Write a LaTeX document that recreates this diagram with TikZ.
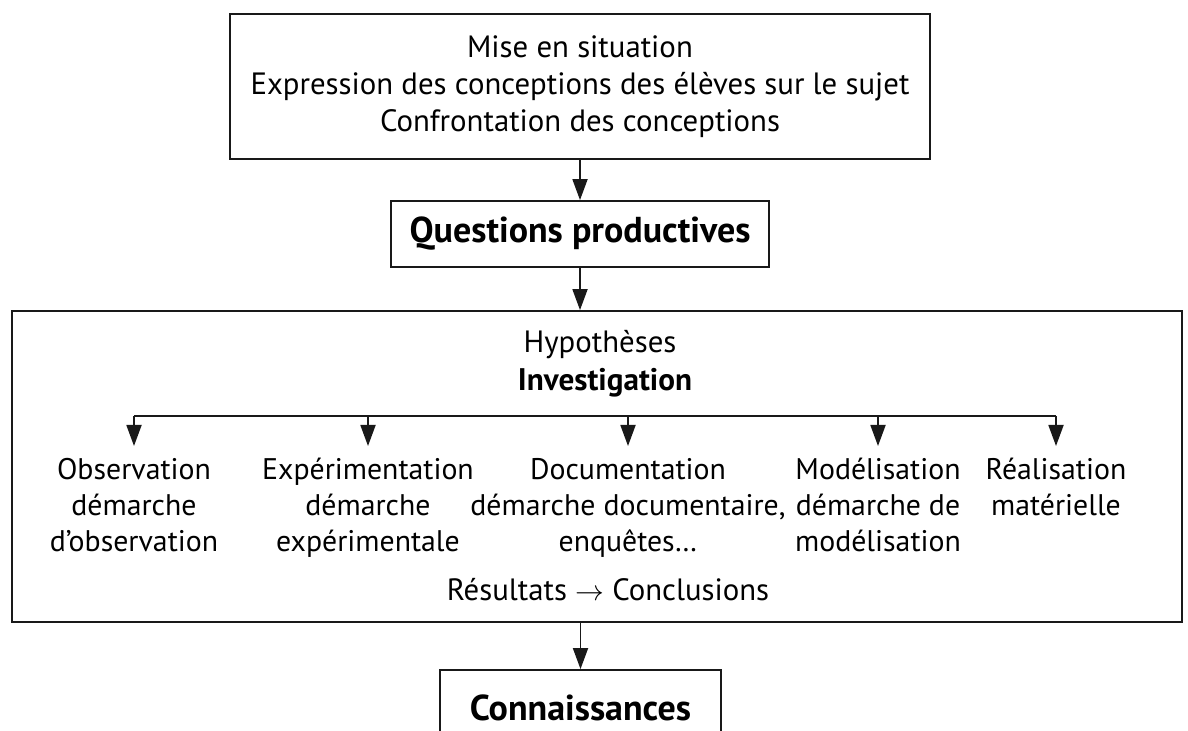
\documentclass[tikz,border=0pt]{standalone}
\usepackage{fontspec}
\setmainfont{PT Sans}
\usetikzlibrary{arrows.meta,positioning}
\definecolor{ink}{RGB}{25,25,25}
\tikzset{
  box/.style={draw=ink,line width=0.9pt,align=center,inner sep=0pt},
  txt/.style={align=center,inner sep=0pt,font=\fontsize{15.4}{18.5}\selectfont},
  head/.style={align=center,inner sep=0pt,font=\fontsize{18}{21}\selectfont\bfseries},
  col/.style={align=center,anchor=north,inner sep=6pt,
    font=\fontsize{14.9}{18}\selectfont},
  arr/.style={-{Triangle[length=10.5pt,width=7.5pt]},line width=0.9pt,draw=ink},
  bar/.style={line width=0.9pt,draw=ink},
}

\begin{document}
\begin{tikzpicture}[x=0.5pt,y=-0.5pt]
  \useasboundingbox (0,0) rectangle (1188,731);
  \node[box,txt,minimum width=350pt,minimum height=72.5pt] (sit) at (580,86.5){Mise en situation\\
    Expression des conceptions des élèves sur le sujet\\
    Confrontation des conceptions};
  \node[box,head,minimum width=189pt,minimum height=33pt] (qp) at (580,234){Questions productives};
  \node[box,minimum width=585pt,minimum height=155.5pt] (inv) at (597,466.5){};
  \node[txt] (hyp) at (600,345){Hypothèses};
  \node[head,font=\fontsize{15.6}{18}\selectfont\bfseries] (invt) at (605,383){Investigation};
  \coordinate (fork) at (594,416);
  \node[col] (obs) at (134,446){Observation\\démarche\\d’observation};
  \node[col] (exp) at (368,446){Expérimentation\\démarche\\expérimentale};
  \node[col] (doc) at (628,446){Documentation\\démarche documentaire,\\enquêtes\dots};
  \node[col] (mod) at (878,446){Modélisation\\démarche de\\modélisation};
  \node[col] (real) at (1056,446){Réalisation\\matérielle};
  \node[txt] (res) at (608,590){Résultats $\rightarrow$ Conclusions};
  \node[box,head,minimum width=140.5pt,minimum height=37.5pt] (con) at (580.5,707.5){Connaissances};

  \draw[arr] (sit) -- (qp);
  \draw[arr] (qp) -- (qp |- inv.north);
  \draw[bar] (obs.north |- fork) -- (real.north |- fork);
  \foreach \n in {obs,exp,doc,mod,real}
    \draw[arr] (\n.north |- fork) -- (\n.north);
  \draw[arr] (inv.south -| con) -- (con);
\end{tikzpicture}
\end{document}
